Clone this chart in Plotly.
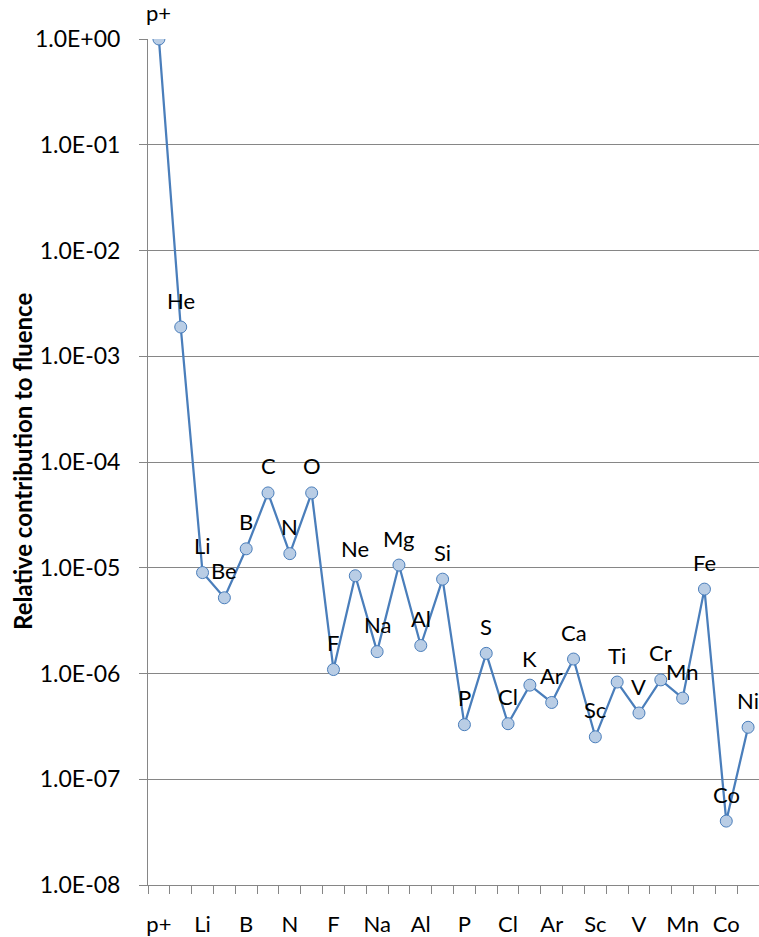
import math
import plotly.graph_objects as go

# Elements in order of the series, with their relative fluence contribution
elements = ["p+", "He", "Li", "Be", "B", "C", "N", "O", "F", "Ne", "Na", "Mg", "Al", "Si",
            "P", "S", "Cl", "K", "Ar", "Ca", "Sc", "Ti", "V", "Cr", "Mn", "Fe", "Co", "Ni"]
fluence = [1.0, 1.89e-3, 9.0e-6, 5.2e-6, 1.51e-5, 5.1e-5, 1.36e-5, 5.1e-5, 1.09e-6, 8.4e-6,
           1.61e-6, 1.06e-5, 1.84e-6, 7.8e-6, 3.28e-7, 1.55e-6, 3.35e-7, 7.76e-7, 5.32e-7,
           1.37e-6, 2.52e-7, 8.3e-7, 4.23e-7, 8.7e-7, 5.85e-7, 6.28e-6, 4.02e-8, 3.1e-7]

y_tickvals = [1e-8, 1e-7, 1e-6, 1e-5, 1e-4, 1e-3, 1e-2, 1e-1, 1e0]
y_ticktext = ["1.0E-08", "1.0E-07", "1.0E-06", "1.0E-05", "1.0E-04",
              "1.0E-03", "1.0E-02", "1.0E-01", "1.0E+00"]

x_pos = list(range(len(elements)))
x_tickvals = x_pos[::2]
x_ticktext = elements[::2]

FONT = "Lato"
GRID = "#868686"
LINE = "#4A7EBB"
FILL = "#B9CDE5"

fig = go.Figure()
fig.add_trace(go.Scatter(
    x=x_pos, y=fluence, mode="lines+markers",
    line=dict(color=LINE, width=2.25),
    marker=dict(size=12, color=FILL, line=dict(color=LINE, width=1)),
    hoverinfo="skip", showlegend=False,
))

# element name above each point (annotation y on a log axis is given in log10 units)
annotations = [
    dict(x=xp, y=math.log10(v), xref="x", yref="y", text=name, showarrow=False,
         xanchor="center", yanchor="middle", yshift=27,
         font=dict(family=FONT, size=22, color="black"))
    for xp, v, name in zip(x_pos, fluence, elements)
]
annotations.append(dict(
    text="<b>Relative contribution to fluence</b>", textangle=-90,
    xref="paper", yref="paper", x=0, y=0.5, xshift=-126,
    xanchor="center", yanchor="middle", showarrow=False,
    font=dict(family=FONT, size=24, color="black"),
))

fig.update_layout(
    width=759, height=937,
    margin=dict(l=148, r=0, t=39, b=50),
    paper_bgcolor="white", plot_bgcolor="white",
    font=dict(family=FONT, size=22, color="black"),
    annotations=annotations,
    xaxis=dict(
        type="linear", range=[-0.5, len(elements) - 0.5],
        tickmode="array", tickvals=x_tickvals, ticktext=x_ticktext,
        ticks="", ticklabelstandoff=20,
        showgrid=False, zeroline=False,
        showline=True, linecolor=GRID, linewidth=1,
        minor=dict(ticks="outside", ticklen=8, tickcolor=GRID, tickwidth=1,
                   tick0=-0.5, dtick=1, showgrid=False),
        tickfont=dict(family=FONT, size=22),
    ),
    yaxis=dict(
        type="log", range=[-8, 0],
        tickmode="array", tickvals=y_tickvals, ticktext=y_ticktext,
        ticks="outside", ticklen=8, tickcolor=GRID, ticklabelstandoff=14,
        showgrid=True, gridcolor=GRID, gridwidth=1, zeroline=False,
        showline=True, linecolor=GRID, linewidth=1,
        tickfont=dict(family=FONT, size=23),
    ),
)

fig.write_html("out.html")
